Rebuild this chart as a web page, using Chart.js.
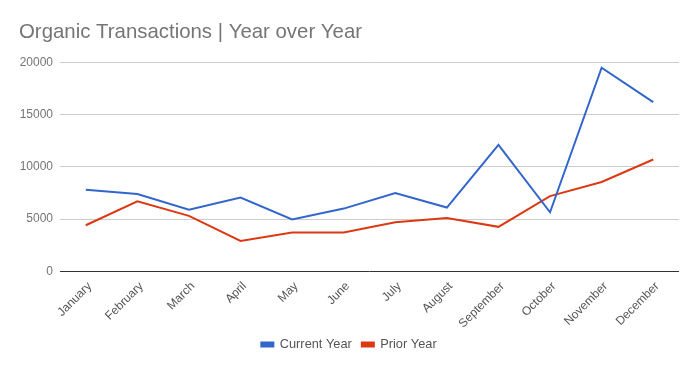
<html>
<head>
    <title>Organic Transactions | Year over Year</title>
    <script src="https://cdn.jsdelivr.net/npm/chart.js"></script>
    <style>
        body { margin: 0; background: #fff; }
    </style>
</head>
<body>
    <canvas id="chart" width="698" height="371"></canvas>
    <script>
        const months = ['January', 'February', 'March', 'April', 'May', 'June', 'July', 'August', 'September', 'October', 'November', 'December'];
        const currentYear = [7800, 7400, 5900, 7050, 4950, 6000, 7500, 6100, 12100, 5650, 19500, 16200];
        const priorYear = [4400, 6700, 5300, 2900, 3700, 3700, 4700, 5100, 4250, 7200, 8550, 10700];
        const yTicks = [0, 5000, 10000, 15000, 20000];

        Chart.defaults.font.family = "'Liberation Sans', Arial, sans-serif";

        new Chart(document.getElementById('chart').getContext('2d'), {
            type: 'line',
            data: {
                labels: months,
                datasets: [
                    { label: 'Current Year', data: currentYear, borderColor: '#3366cc', backgroundColor: '#3366cc', borderWidth: 2, pointRadius: 0, tension: 0 },
                    { label: 'Prior Year', data: priorYear, borderColor: '#dc3912', backgroundColor: '#dc3912', borderWidth: 2, pointRadius: 0, tension: 0 }
                ]
            },
            options: {
                responsive: false,
                animation: false,
                layout: { padding: { left: 19, right: 19, top: 0, bottom: 10 } },
                plugins: {
                    title: {
                        display: true,
                        text: 'Organic Transactions | Year over Year',
                        align: 'start',
                        color: '#757575',
                        font: { size: 20.4, weight: 'normal' },
                        padding: { top: 20, bottom: 18 }
                    },
                    legend: {
                        position: 'bottom',
                        labels: { boxWidth: 12, boxHeight: 4, color: '#555', font: { size: 12.8 }, padding: 10 }
                    },
                    tooltip: { enabled: false }
                },
                scales: {
                    x: {
                        offset: true,
                        grid: { display: false },
                        border: { display: false },
                        afterFit: axis => { axis.height = 57; },
                        ticks: { color: '#555', font: { size: 12 }, minRotation: 45, maxRotation: 45, padding: 0, labelOffset: 4 }
                    },
                    y: {
                        min: 0,
                        max: 20000,
                        afterBuildTicks: axis => { axis.ticks = yTicks.map(v => ({ value: v })); },
                        afterFit: axis => { axis.width = 41; },
                        border: { display: false },
                        grid: {
                            color: ctx => ctx.tick && ctx.tick.value === 0 ? '#333' : '#cccccc',
                            lineWidth: 1,
                            drawTicks: false
                        },
                        ticks: { color: '#757575', font: { size: 12 }, padding: 7, callback: v => String(v) }
                    }
                }
            }
        });
    </script>
</body>
</html>
